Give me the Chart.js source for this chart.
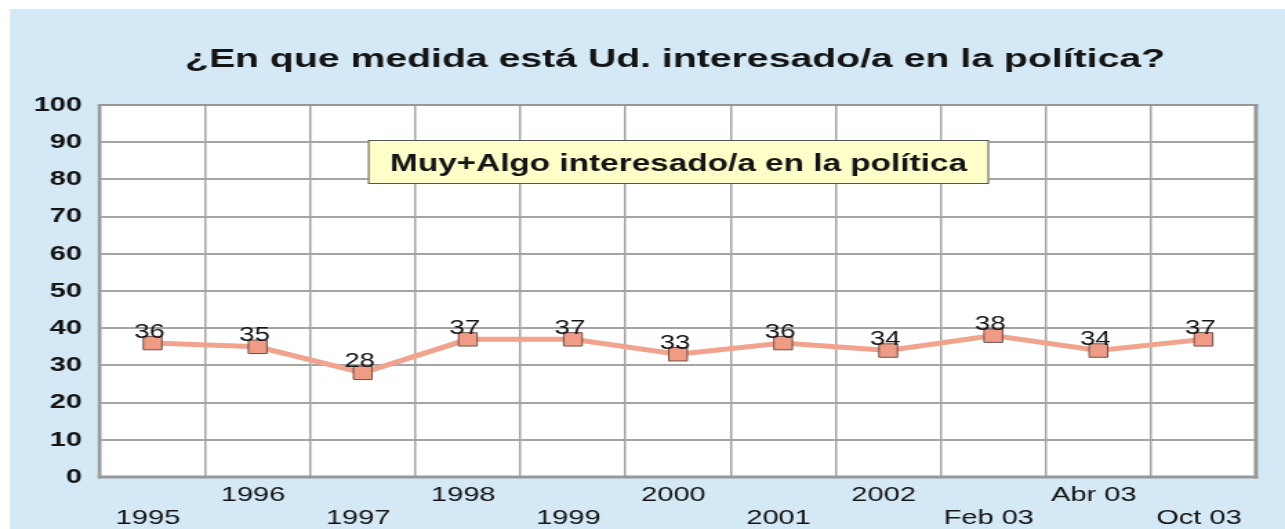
<!DOCTYPE html>
<html>
<head>
<meta charset="utf-8">
<script src="https://cdn.jsdelivr.net/npm/chart.js@4"></script>
<style>
html,body{margin:0;padding:0;background:#ffffff;overflow:hidden;width:1285px;height:529px;}
#wrap{position:absolute;left:0;top:0;width:931px;height:529px;transform:scaleX(1.38024);transform-origin:0 0;}
canvas{display:block;}
</style>
</head>
<body>
<div id="wrap"><canvas id="c" width="931" height="529"></canvas></div>
<script>
const titleText = '¿En que medida está Ud. interesado/a en la política?';
const seriesLabel = 'Muy+Algo interesado/a en la política';
const categories = ['1995', '1996', '1997', '1998', '1999', '2000', '2001', '2002', 'Feb 03', 'Abr 03', 'Oct 03'];
const values = [36, 35, 28, 37, 37, 33, 36, 34, 38, 34, 37];
const yTicks = [0, 10, 20, 30, 40, 50, 60, 70, 80, 90, 100];

const S = 1285 / 931; // horizontal stretch of the picture
const FONT = "'Liberation Sans', Arial, Helvetica, sans-serif";
const GRID = '#a4a4a4';
const FRAME = '#989898';

const decor = {
  id: 'decor',
  beforeDraw(chart) {
    const ctx = chart.ctx, a = chart.chartArea;
    ctx.save();
    ctx.fillStyle = '#ffffff';
    ctx.fillRect(0, 0, chart.width, chart.height);
    ctx.fillStyle = '#d5e8f5';
    ctx.fillRect(10 / S, 9, chart.width, chart.height);
    ctx.fillStyle = '#ffffff';
    ctx.fillRect(a.left, a.top, a.right - a.left, a.bottom - a.top);
    ctx.restore();
  },
  afterDatasetsDraw(chart) {
    const ctx = chart.ctx, a = chart.chartArea;
    ctx.save();
    // frame
    ctx.fillStyle = FRAME;
    ctx.fillRect(a.left - 1.6, a.top - 1, 2.2, a.bottom - a.top + 2.5);      // left
    ctx.fillRect(a.right - 1.5, a.top - 1, 2.9, a.bottom - a.top + 2.5);     // right
    ctx.fillRect(a.left - 1.6, a.top - 1, a.right - a.left + 3, 2);          // top
    ctx.fillRect(a.left - 1.6, a.bottom - 1.5, a.right - a.left + 3, 3);     // bottom
    // data labels
    const meta = chart.getDatasetMeta(0);
    ctx.fillStyle = '#141414';
    ctx.font = '20px ' + FONT;
    ctx.textAlign = 'center';
    ctx.textBaseline = 'alphabetic';
    meta.data.forEach((pt, i) => {
      ctx.fillText(String(values[i]), pt.x - 2.2, pt.y - 5.5);
    });
    // legend box
    const bx = 368 / S, by = 140, bw = (989 - 368) / S, bh = 44;
    ctx.fillStyle = '#ffffca';
    ctx.fillRect(bx, by, bw, bh);
    ctx.strokeStyle = '#555555';
    ctx.lineWidth = 1;
    ctx.strokeRect(bx + 0.5, by + 0.5, bw - 1, bh - 1);
    ctx.font = 'bold 24px ' + FONT;
    ctx.textAlign = 'left';
    ctx.fillStyle = '#141414';
    let w = ctx.measureText(chart.data.datasets[0].label).width;
    let k = (577 / S) / w;
    ctx.save();
    ctx.translate(390 / S, 171);
    ctx.scale(k, 1);
    ctx.fillText(chart.data.datasets[0].label, 0, 0);
    ctx.restore();
    // title
    ctx.font = 'bold 25px ' + FONT;
    w = ctx.measureText(titleText).width;
    k = (980 / S) / w;
    ctx.save();
    ctx.translate(185 / S, 67);
    ctx.scale(k, 1);
    ctx.fillText(titleText, 0, 0);
    ctx.restore();
    ctx.restore();
  }
};

new Chart(document.getElementById('c'), {
  type: 'line',
  data: {
    labels: categories,
    datasets: [{
      label: seriesLabel,
      data: values,
      borderColor: '#f2a38d',
      borderWidth: 5,
      tension: 0,
      pointStyle: 'rect',
      pointRadius: 9.5,
      pointHoverRadius: 9.5,
      pointBackgroundColor: '#ef9b86',
      pointBorderColor: '#6e5048',
      pointBorderWidth: 1
    }]
  },
  options: {
    responsive: false,
    animation: false,
    devicePixelRatio: 1,
    layout: { padding: { left: 0, right: 21, top: 105, bottom: 0 } },
    plugins: {
      legend: { display: false },
      title: { display: false },
      tooltip: { enabled: false }
    },
    scales: {
      x: {
        type: 'category',
        offset: true,
        grid: { offset: true, color: GRID, lineWidth: 1.5, drawTicks: false },
        border: { display: false },
        ticks: {
          autoSkip: false,
          maxRotation: 0,
          minRotation: 0,
          padding: 7,
          labelOffset: -3.3,
          color: '#141414',
          font: { family: FONT, size: 21, lineHeight: 23 / 21 },
          callback: function (v, i) {
            const l = this.getLabelForValue(v);
            return i % 2 === 0 ? ['', l] : [l, ''];
          }
        },
        afterFit(scale) { scale.height = 52; }
      },
      y: {
        min: 0,
        max: 100,
        grid: { color: GRID, lineWidth: 2, drawTicks: false },
        border: { display: false },
        afterBuildTicks(scale) { scale.ticks = yTicks.map(v => ({ value: v })); },
        ticks: {
          padding: 13,
          color: '#141414',
          font: { family: FONT, size: 21, weight: 'bold' }
        },
        afterFit(scale) { scale.width = 100 / S; }
      }
    }
  },
  plugins: [decor]
});
</script>
</body>
</html>
